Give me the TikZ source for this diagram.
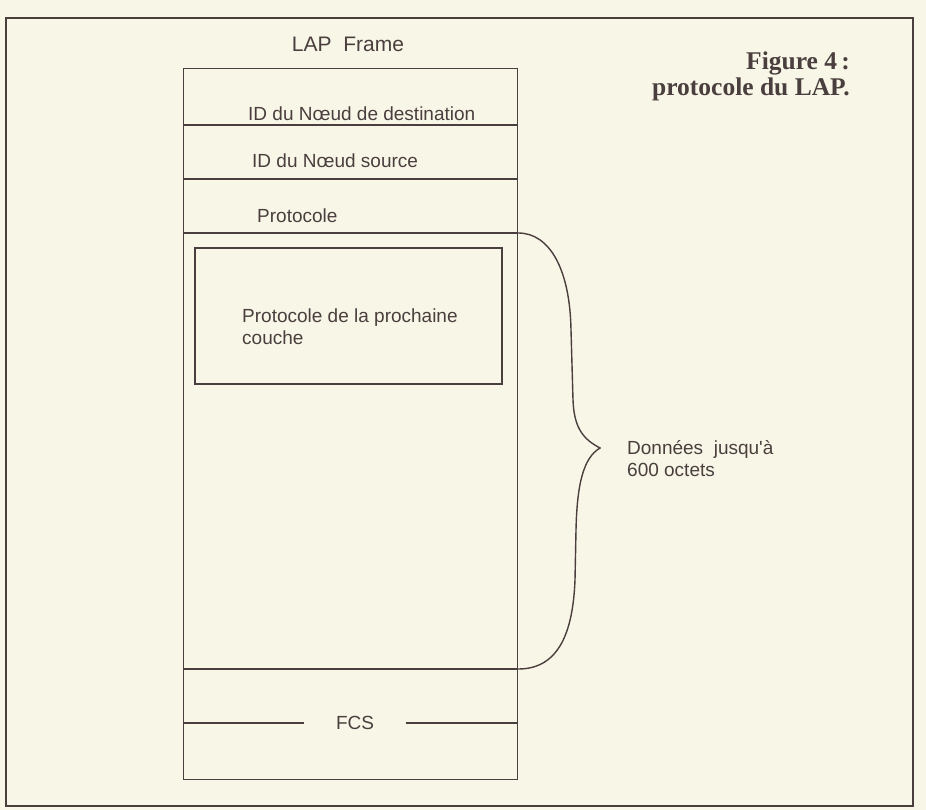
\documentclass[tikz,border=0pt]{standalone}
\usepackage{fontspec}
\setsansfont{Liberation Sans}
\newfontfamily\captionserif{Liberation Serif}
\usetikzlibrary{positioning}
\definecolor{paper}{HTML}{F8F7E7}
\definecolor{ink}{HTML}{4A3E3E}

\begin{document}
\begin{tikzpicture}[x=1pt, y=-1pt,
      field/.style={
        % The text:
        font=\fontsize{19}{22}\selectfont\sffamily, text=ink,
        % The rest
        inner sep=0pt},
      thinline/.style={draw=ink, line width=1.2pt},
      heavyline/.style={draw=ink, line width=2.3pt},
      caption/.style={
        font=\fontsize{25.5}{26}\selectfont\captionserif\bfseries,
        text=ink, align=right, inner sep=0pt}]
    \useasboundingbox (0,0) rectangle (926,810);
    \fill[paper] (0,0) rectangle (926,810);
    \draw[thinline] (6,18) rectangle (913,806);

    % the frame
    \node(frame)[thinline, minimum width=334pt, minimum height=711pt,
      anchor=north west, inner sep=0pt] at (183,68) {};
    \node(title)[field, font=\fontsize{21}{25}\selectfont\sffamily] at (348,44) {LAP\ \ Frame};
    \draw[thinline] (frame.west |- 0,125) -- (frame.east |- 0,125);
    \draw[heavyline] (frame.west |- 0,179) -- (frame.east |- 0,179);
    \draw[heavyline] (frame.west |- 0,233) -- (frame.east |- 0,233);
    \draw[thinline] (frame.west |- 0,669) -- (frame.east |- 0,669);
    \node(dest)[field, anchor=base west] at (248,121) {ID du Nœud de destination};
    \node(src)[field, anchor=base west] at (252,168) {ID du Nœud source};
    \node(proto)[field, anchor=base west] at (257,223) {Protocole};

    \node(next)[thinline, line width=1.5pt, minimum width=307pt, minimum height=136pt,
      inner sep=0pt] at (348.5,316) {};
    \node(nexttext)[field, align=left, anchor=west] at (242,327) {Protocole de la prochaine\\couche};

    \node(fcs)[field, inner xsep=32pt] at (355,723) {FCS};
    \path (frame.west |- fcs) edge[heavyline] (fcs.west);
    \path (fcs.east) edge[heavyline] (frame.east |- fcs);

    % the brace
    \coordinate (top) at (frame.east |- 0,233);
    \coordinate (bot) at (frame.east |- 0,669);
    \coordinate (tip) at (600,448);
    \draw[thinline, line width=1.4pt] (top) .. controls (550,233) and (570,270) .. (571,330)
      -- (573,400) .. controls (574,430) and (585,440) .. (tip)
      .. controls (583,458) and (577,485) .. (576,530)
      -- (575,580) .. controls (573,630) and (560,669) .. (bot);
    \node(data)[field, align=left, anchor=west] at (627,459) {Données\ \ jusqu\textquotesingle à\\600 octets};

    \node(caption)[caption, anchor=east] at (850,76) {Figure 4\,:\\protocole du LAP.};
  \end{tikzpicture}
\end{document}
